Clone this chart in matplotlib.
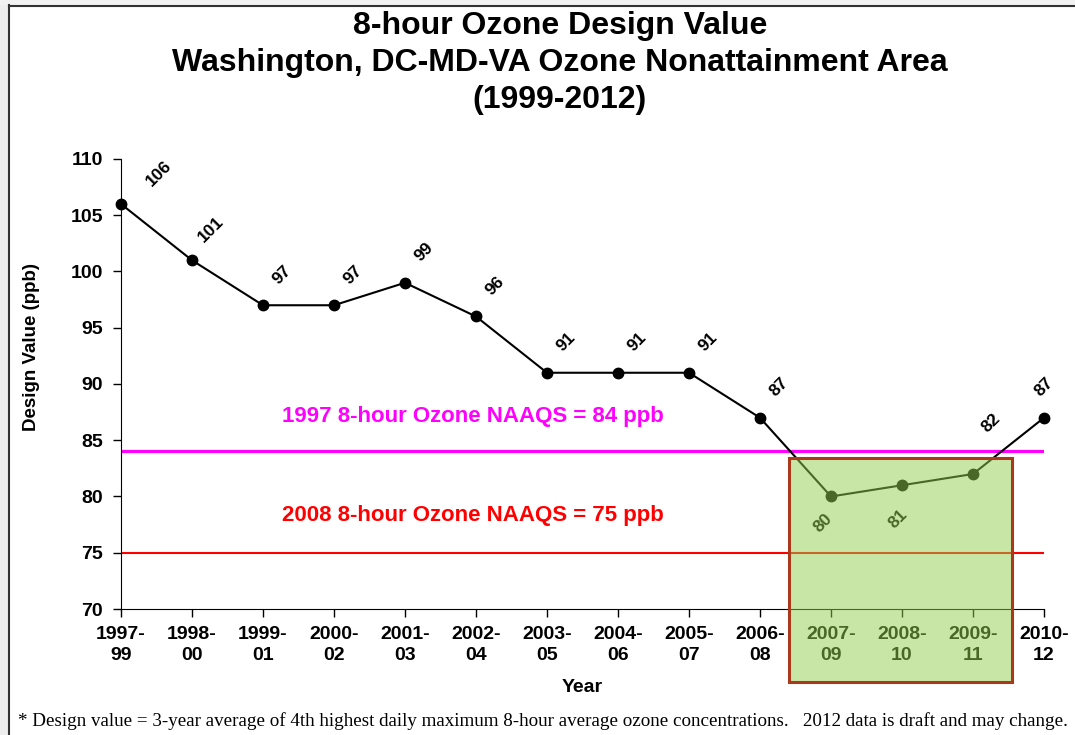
import matplotlib.pyplot as plt
from matplotlib.patches import Rectangle
from matplotlib.lines import Line2D

periods = ['1997-\n99', '1998-\n00', '1999-\n01', '2000-\n02', '2001-\n03', '2002-\n04',
           '2003-\n05', '2004-\n06', '2005-\n07', '2006-\n08', '2007-\n09', '2008-\n10',
           '2009-\n11', '2010-\n12']
design_values = [106, 101, 97, 97, 99, 96, 91, 91, 91, 87, 80, 81, 82, 87]
naaqs_1997 = 84
naaqs_2008 = 75

fig = plt.figure(figsize=(10.75, 7.35), dpi=100)
plt.rcParams['font.family'] = ['Liberation Sans', 'DejaVu Sans']

# gray window border like the screenshot
W, H = 1075, 735
fig.patches.append(Rectangle((0, 0), 8 / W, 1, transform=fig.transFigure,
                             facecolor='#eeeeee', edgecolor='none', zorder=0))
fig.patches.append(Rectangle((0, 1 - 5 / H), 1, 5 / H, transform=fig.transFigure,
                             facecolor='#f2f2f2', edgecolor='none', zorder=0))
fig.lines.append(Line2D([8.5 / W, 8.5 / W], [0, 1 - 5 / H], transform=fig.transFigure,
                        color='#333333', lw=1.5))
fig.lines.append(Line2D([8.5 / W, 1], [1 - 5.5 / H, 1 - 5.5 / H], transform=fig.transFigure,
                        color='#333333', lw=1.5))

ax = fig.add_axes([121 / W, 1 - 609 / H, (1044 - 121) / W, (609 - 159) / H])
x = list(range(len(periods)))

ax.axhline(naaqs_1997, color='#ff00ff', lw=2.3, zorder=2)
ax.axhline(naaqs_2008, color='#ff0000', lw=1.5, zorder=2)
ax.text(4.96, 87.1, '1997 8-hour Ozone NAAQS = 84 ppb', color='#ff00ff',
        fontsize=16, fontweight='bold', ha='center', va='center')
ax.text(4.96, 78.3, '2008 8-hour Ozone NAAQS = 75 ppb', color='#ff0000',
        fontsize=16, fontweight='bold', ha='center', va='center')

ax.plot(x, design_values, '-o', color='black', lw=1.5, markersize=7.5, zorder=3, clip_on=False)

# label offsets in points (dx, dy)
for i, v in enumerate(design_values):
    if i == 0:
        off = (27, 22)
    elif i == 10:
        off = (-6, -19)
    elif i == 11:
        off = (-3, -24)
    elif i == 12:
        off = (13, 37)
    elif i == 13:
        off = (0, 22)
    else:
        off = (14, 22)
    ax.annotate(str(v), (i, v), xytext=off, textcoords='offset points',
                rotation=45, ha='center', va='center', fontsize=12.5, fontweight='bold')

ax.set_xlim(0, 13)
ax.set_ylim(70, 110)
ax.set_yticks(range(70, 111, 5))
ax.set_xticks(x)
ax.set_xticklabels(periods)
ax.tick_params(axis='both', labelsize=14, width=1, color='black', direction='out', length=6)
ax.tick_params(axis='y', pad=7)
ax.tick_params(axis='x', pad=6)
for lab in ax.get_xticklabels() + ax.get_yticklabels():
    lab.set_fontweight('bold')
    lab.set_linespacing(1.32)
ax.spines['top'].set_visible(False)
ax.spines['right'].set_visible(False)

ax.set_ylabel('Design Value (ppb)', fontsize=13.5, fontweight='bold')
ax.yaxis.set_label_coords(-81 / (1044 - 121), (609 - 347) / (609 - 159))
ax.set_xlabel('Year', fontsize=14, fontweight='bold')
ax.xaxis.set_label_coords(0.5, -(679 - 609) / (609 - 159))

fig.text(560 / W, 1 - 63 / H,
         '8-hour Ozone Design Value\nWashington, DC-MD-VA Ozone Nonattainment Area\n(1999-2012)',
         ha='center', va='center', fontsize=23, fontweight='bold', linespacing=1.32)

fig.text(18 / W, 1 - 721 / H,
         '* Design value = 3-year average of 4th highest daily maximum 8-hour average ozone '
         'concentrations.   2012 data is draft and may change.',
         ha='left', va='center', fontsize=13.7, family=['Liberation Serif', 'DejaVu Serif'])

# translucent highlight box over the last years, drawn on top of the axes
box = Rectangle((9.41, 63.5), 12.55 - 9.41, 83.42 - 63.5, transform=ax.transData,
                facecolor=(0.573, 0.816, 0.314, 0.5), edgecolor='#a8391a', lw=2.2, zorder=5)
fig.patches.append(box)

fig.savefig('out.png', dpi=100)
